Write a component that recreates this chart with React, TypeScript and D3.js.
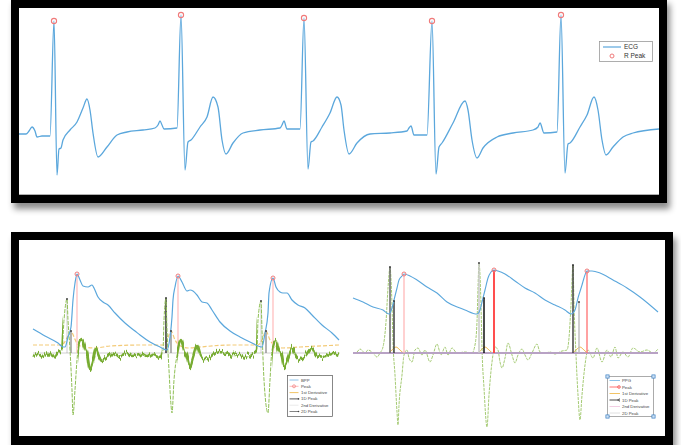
import React from 'react';
import * as d3 from 'd3';

type P = [number, number];

// ---------- ECG (top) : [sample, mV] ----------
const ecgSignal: P[] = [
  [0, -0.02], [7, -0.02], [10, 0.04], [13, 0.12], [16, 0.04], [18, -0.08], [23, -0.06], [31, -0.06],
  [35, 2.24], [38, -0.84], [40, -0.32], [42, -0.3], [44, -0.14], [51, 0.06], [58, 0.22], [64, 0.5],
  [68, 0.68], [71, 0.46], [74, 0.0], [79, -0.48], [88, -0.28], [98, -0.04], [108, 0.02], [124, 0.06],
  [136, 0.1], [139, 0.16], [141, 0.24], [143, 0.16], [145, 0.08], [158, 0.1],
  [162, 2.36], [166, -0.74], [169, -0.18], [172, -0.14], [181, 0.12], [188, 0.32], [194, 0.72],
  [199, 0.52], [203, -0.14], [207, -0.42], [214, -0.2], [224, 0.0], [241, 0.06], [261, 0.1],
  [263, 0.16], [265, 0.24], [268, 0.08], [281, 0.08],
  [285, 2.3], [289, -0.72], [292, -0.18], [294, -0.16], [303, 0.12], [311, 0.4], [318, 0.72],
  [322, 0.56], [325, 0.06], [330, -0.42], [338, -0.2], [351, -0.02], [371, 0.0], [388, 0.04],
  [390, 0.1], [392, 0.14], [395, -0.04], [408, -0.04],
  [413, 2.24], [417, -0.82], [420, -0.28], [423, -0.2], [434, 0.2], [446, 0.64], [449, 0.46],
  [453, -0.14], [458, -0.5], [464, -0.3], [478, -0.08], [494, 0.0], [514, 0.06], [519, 0.12],
  [521, 0.2], [525, 0.0], [538, 0.02],
  [542, 2.36], [546, -0.8], [549, -0.22], [551, -0.2], [561, 0.12], [568, 0.36], [575, 0.72],
  [579, 0.46], [583, -0.14], [587, -0.44], [594, -0.28], [604, -0.08], [614, 0.0], [640, 0.08],
];
const ecgRPeaks: P[] = [[35, 2.24], [162, 2.36], [285, 2.3], [413, 2.24], [542, 2.36]];
const ecgLegend = ['ECG', 'R Peak'];

// ---------- BPP (bottom left) : [sample, a.u.] ----------
const bppSignal: P[] = [
  [0, 24], [12, 17], [25, 10], [30, 6], [32, 6], [35, 16], [38, 26], [40, 53], [42, 70], [44, 79],
  [47, 73], [50, 67], [55, 66], [59, 68], [61, 65], [65, 56], [70, 51], [75, 48], [82, 40], [92, 30],
  [102, 22], [107, 18], [117, 11], [127, 6], [134, 3], [137, 16], [139, 36], [140, 53], [142, 66],
  [145, 77], [149, 71], [154, 62], [157, 63], [160, 62], [164, 58], [169, 51], [174, 50], [179, 43],
  [187, 31], [197, 22], [207, 16], [217, 11], [229, 6], [232, 20], [235, 40], [236, 60], [240, 75],
  [243, 66], [247, 61], [250, 60], [254, 60], [259, 53], [265, 48], [272, 45], [279, 38], [289, 28],
  [299, 20], [306, 13],
];
const bppPeaks: P[] = [[44, 79], [145, 77], [240, 75]];
const bppD1: P[] = [
  [0, 8], [27, 8], [31, 10], [35, 17], [38, 22], [41, 16], [45, 8], [52, 6], [62, 5], [77, 7],
  [107, 8], [130, 8], [134, 13], [138, 22], [142, 13], [146, 8], [155, 5], [167, 6], [197, 8],
  [225, 8], [229, 13], [233, 22], [237, 13], [241, 8], [250, 5], [267, 6], [306, 8],
];
const bppD1Peaks: P[] = [[38, 22], [138, 22], [233, 22]];
const bppD2: P[] = [
  [0, -3], [5, -1], [10, -4], [15, 0], [20, -4], [25, 1], [29, 3], [31, 33], [34, 54], [35, 33],
  [37, 3], [39, -37], [40, -62], [42, -37], [44, -7], [46, 10], [49, 14], [52, 5], [54, 0], [57, -17],
  [60, -7], [63, 5], [65, 0], [69, -7], [74, -4], [79, 0], [84, -3], [89, -2], [94, 0], [99, -3],
  [107, -1], [114, -4], [120, -1], [127, -4], [130, 3], [131, 33], [133, 55], [134, 23], [136, -17],
  [138, -52], [139, -60], [141, -27], [144, -2], [148, 13], [151, 3], [154, -3], [157, -14], [160, -5],
  [164, 7], [167, -2], [172, -7], [177, -4], [184, 1], [194, 0], [200, -3], [207, -2], [214, -4],
  [219, -1], [224, 3], [225, 33], [228, 52], [229, 23], [231, -27], [235, -60], [237, -27], [239, 3],
  [243, 13], [245, 5], [249, -3], [251, -14], [255, -5], [259, 5], [262, -2], [267, -7], [272, -3],
  [279, 5], [284, -2], [292, -4], [299, -1], [306, -3],
];
const bppD2Peaks: P[] = [[34, 54], [133, 55], [228, 52]];
const bppLegend = ['BPP', 'Peak', '1st Derivative', '1D Peak', '2nd Derivative', '2D Peak'];

// ---------- PPG (bottom right) : [sample, a.u.] ----------
const ppgSignal: P[] = [
  [0, 55], [10, 51], [20, 46], [30, 43], [36, 39], [39, 45], [41, 53], [44, 65], [46, 73], [49, 77],
  [51, 79], [57, 77], [64, 73], [74, 66], [84, 60], [94, 51], [107, 45], [112, 43], [124, 39],
  [127, 43], [129, 51], [132, 63], [135, 75], [138, 81], [141, 83], [145, 82], [152, 79], [162, 72],
  [172, 65], [182, 60], [192, 53], [202, 48], [212, 43], [218, 39], [222, 43], [225, 55], [229, 68],
  [231, 75], [234, 82], [239, 82], [247, 80], [260, 73], [274, 65], [287, 56], [305, 41],
];
const ppgPeaks: P[] = [[51, 79], [141, 83], [234, 82]];
const ppgD1: P[] = [
  [0, 0], [35, 0], [39, 3], [43, 6], [47, 3], [51, 0], [125, 0], [128, 3], [132, 6], [136, 3],
  [140, 0], [219, 0], [223, 3], [227, 6], [231, 3], [235, 0], [305, 0],
];
const ppgD1Peaks: P[] = [[41, 52], [131, 55], [226, 51]];
const ppgD2: P[] = [
  [0, 0], [4, 1], [7, 4], [12, 0], [15, 3], [20, 0], [24, -4], [27, 0], [30, 6], [33, 31], [35, 65],
  [37, 85], [39, 48], [40, 11], [42, -22], [44, -59], [45, -72], [46, -52], [49, -22], [51, -2],
  [54, 3], [56, -5], [59, -9], [62, 3], [65, 5], [69, -2], [72, 3], [77, -9], [80, -2], [84, 9],
  [88, -2], [92, 6], [95, -2], [99, 5], [104, 0], [112, 1], [119, 0], [122, 8], [124, 31], [125, 65],
  [126, 90], [128, 48], [129, 5], [131, -35], [134, -74], [136, -42], [139, -9], [142, 6], [145, 3],
  [147, -9], [149, -15], [152, -5], [155, 10], [159, -2], [162, -10], [165, -2], [169, 4], [172, -2],
  [175, -7], [179, 0], [184, 9], [187, 1], [192, 0], [197, 1], [202, -1], [209, 2], [214, 3],
  [216, 15], [218, 48], [220, 88], [221, 48], [223, -2], [225, -42], [227, -67], [229, -42],
  [232, -12], [235, 3], [240, -5], [244, 5], [249, -9], [254, 3], [258, -4], [262, 6], [265, -5],
  [270, 1], [275, -4], [280, 5], [287, 1], [294, 3], [300, 0], [305, 4],
];
const ppgD2Peaks: P[] = [[37, 86], [126, 90], [220, 88]];
const ppgLegend = ['PPG', 'Peak', '1st Derivative', '1D Peak', '2nd Derivative', '2D Peak'];

// per-beat styles of the stems (as they appear in the screenshot)
const ppgPeakLineColors = ['#ffb8b8', '#ff3b3b', '#ff7070'];
const ppgD1StemColors = ['#333', '#000', '#bbb'];
const ppgD2StemColors = ['#666', '#c8c8c8', '#444'];
const bppD2StemOpacity = [0.15, 1, 0.15];

const FONT = 'Liberation Sans, Arial, Helvetica, sans-serif';
const BLUE = '#5ba7dc';
const GREEN = '#77ac30';
const YELLOW = '#f0bd55';

export default function App() {
  const ecgX = d3.scaleLinear().domain([0, 640]).range([19, 659]);
  const ecgY = d3.scaleLinear().domain([-1.24, 2.5]).range([195, 8]);
  const lx = d3.scaleLinear().domain([0, 306]).range([33, 339]);
  const rx = d3.scaleLinear().domain([0, 305]).range([353, 658]);
  const by = d3.scaleLinear().domain([-83, 113]).range([436, 240]);

  const mk = (sx: d3.ScaleLinear<number, number>, sy: d3.ScaleLinear<number, number>) =>
    d3.line<P>().x((d) => sx(d[0])).y((d) => sy(d[1])).curve(d3.curveMonotoneX);

  const ecgLine = mk(ecgX, ecgY);
  const lLine = mk(lx, by);
  const rLine = mk(rx, by);
  const y0 = by(0);

  // noisy band segments: the whole left trace except the big 2nd-derivative spikes
  const spikeWin = bppD2Peaks.map((p) => [p[0] - 4, p[0] + 11]);
  const segs: [number, number][] = [];
  let s0 = -5;
  spikeWin.forEach((w) => { segs.push([s0, w[0]]); s0 = w[1]; });
  segs.push([s0, 312]);

  return (
    <svg width={681} height={445} style={{ position: 'absolute', left: 0, top: 0 }}>
      <defs>
        <filter id="shadow" x="-5%" y="-5%" width="115%" height="125%">
          <feDropShadow dx="3" dy="6" stdDeviation="3" floodColor="#000" floodOpacity="0.45" />
        </filter>
        <filter id="noise" filterUnits="userSpaceOnUse" x="20" y="240" width="330" height="200">
          <feTurbulence type="fractalNoise" baseFrequency="0.55 0.015" numOctaves="2" seed="7" result="t" />
          <feColorMatrix in="t" type="matrix"
            values="0 0 0 0 0.5  0 1 0 0 0  0 0 0 0 0  0 0 0 0 1" result="tv" />
          <feDisplacementMap in="SourceGraphic" in2="tv" scale="11" xChannelSelector="R" yChannelSelector="G" />
        </filter>
        <clipPath id="clipTop">
          <rect x={19} y={8} width={640} height={187} />
        </clipPath>
        <clipPath id="clipNoise">
          {segs.map((s, i) => (
            <rect key={i} x={lx(s[0])} y={240} width={lx(s[1]) - lx(s[0])} height={196} />
          ))}
        </clipPath>
      </defs>
      <rect width={681} height={445} fill="#fff" />

      {/* ---------------- TOP PANEL ---------------- */}
      <rect x={11} y={-2} width={656} height={205} fill="#000" filter="url(#shadow)" />
      <rect x={19} y={8} width={640} height={187} fill="#fff" />
      <line x1={19} x2={659} y1={194.5} y2={194.5} stroke="#b0b0b0" strokeWidth={1} />
      <g clipPath="url(#clipTop)">
        <path d={ecgLine(ecgSignal) || ''} fill="none" stroke={BLUE} strokeWidth={1.3} strokeLinejoin="round" />
        {ecgRPeaks.map((d, i) => (
          <circle key={i} cx={ecgX(d[0])} cy={ecgY(d[1])} r={2.6} fill="none" stroke="#f07a7a" strokeWidth={1.1} />
        ))}
      </g>
      {/* top legend */}
      <g fontFamily={FONT} fontSize={6.5} fill="#333">
        <rect x={599.5} y={41.5} width={53} height={20} fill="#fff" stroke="#999" strokeWidth={0.8} />
        <line x1={603} x2={621} y1={47} y2={47} stroke={BLUE} strokeWidth={1.2} />
        <text x={624} y={49.3}>{ecgLegend[0]}</text>
        <circle cx={612} cy={56} r={2} fill="none" stroke="#f07a7a" strokeWidth={1} />
        <text x={624} y={58.3}>{ecgLegend[1]}</text>
      </g>

      {/* ---------------- BOTTOM PANEL ---------------- */}
      <rect x={11} y={232} width={662} height={213} fill="#000" filter="url(#shadow)" />
      <rect x={19} y={240} width={646} height={196} fill="#fff" />

      {/* left subplot */}
      <line x1={lx(0)} x2={lx(306)} y1={y0} y2={y0} stroke="#d0d0d0" strokeWidth={1} />
      <path d={lLine(bppD1) || ''} fill="none" stroke={YELLOW} strokeWidth={1.2} strokeDasharray="4 2" opacity={0.8} />
      {bppPeaks.map((d, i) => (
        <line key={i} x1={lx(d[0])} x2={lx(d[0])} y1={by(d[1])} y2={y0} stroke="#ffc4c4" strokeWidth={1.4} />
      ))}
      {bppD1Peaks.map((d, i) => (
        <line key={i} x1={lx(d[0])} x2={lx(d[0])} y1={by(d[1])} y2={y0} stroke="#888" strokeWidth={1.3} />
      ))}
      {bppD2Peaks.map((d, i) => (
        <line key={i} x1={lx(d[0])} x2={lx(d[0])} y1={by(d[1])} y2={y0} stroke="#222" strokeWidth={1.4} opacity={bppD2StemOpacity[i]} />
      ))}
      <path d={lLine(bppD2) || ''} fill="none" stroke="#8fbf55" strokeWidth={1} strokeDasharray="4 1.2" />
      <g clipPath="url(#clipNoise)">
        <g filter="url(#noise)">
          <path d={lLine(bppD2) || ''} fill="none" stroke={GREEN} strokeWidth={2.6} strokeLinejoin="round" />
        </g>
      </g>
      <path d={lLine(bppSignal) || ''} fill="none" stroke={BLUE} strokeWidth={1.2} />
      {bppPeaks.map((d, i) => (
        <circle key={i} cx={lx(d[0])} cy={by(d[1])} r={2} fill="none" stroke="#f07a7a" strokeWidth={1} />
      ))}
      {bppD1Peaks.concat(bppD2Peaks).map((d, i) => (
        <circle key={i} cx={lx(d[0])} cy={by(d[1])} r={1} fill="#444" />
      ))}
      {/* left legend */}
      <g fontFamily={FONT} fontSize={4.3} fill="#444">
        <rect x={287.5} y={375.5} width={45} height={41} fill="#fff" stroke="#555" strokeWidth={0.7} />
        {bppLegend.map((t, i) => {
          const yy = 380 + i * 6.3;
          const col = ['#7fbbe6', '#ffb0b0', YELLOW, '#444', '#e8e8e8', '#777'][i];
          return (
            <g key={i}>
              <line x1={289.5} x2={298.5} y1={yy} y2={yy} stroke={col} strokeWidth={0.9} />
              {i === 1 && <circle cx={294} cy={yy} r={1.5} fill="none" stroke="#f07a7a" strokeWidth={0.7} />}
              {(i === 3 || i === 5) && <circle cx={298.5} cy={yy} r={0.8} fill="#444" />}
              <text x={301} y={yy + 1.5}>{t}</text>
            </g>
          );
        })}
      </g>

      {/* right subplot */}
      <path d={rLine(ppgD1) || ''} fill="none" stroke={YELLOW} strokeWidth={1} />
      <path d={rLine(ppgD2) || ''} fill="none" stroke="#9bc464" strokeWidth={0.9} strokeDasharray="3 1" />
      <line x1={rx(0)} x2={rx(305)} y1={y0} y2={y0} stroke="#b8a2c4" strokeWidth={1.8} />
      {ppgD2Peaks.map((d, i) => (
        <line key={i} x1={rx(d[0])} x2={rx(d[0])} y1={by(d[1])} y2={y0} stroke={ppgD2StemColors[i]} strokeWidth={1.5} />
      ))}
      {ppgD1Peaks.map((d, i) => (
        <line key={i} x1={rx(d[0])} x2={rx(d[0])} y1={by(d[1])} y2={y0} stroke={ppgD1StemColors[i]} strokeWidth={1.4} />
      ))}
      {ppgPeaks.map((d, i) => (
        <line key={i} x1={rx(d[0])} x2={rx(d[0])} y1={by(d[1])} y2={y0} stroke={ppgPeakLineColors[i]} strokeWidth={i === 1 ? 1.8 : 1.3} />
      ))}
      <path d={rLine(ppgSignal) || ''} fill="none" stroke={BLUE} strokeWidth={1.1} />
      {ppgPeaks.map((d, i) => (
        <circle key={i} cx={rx(d[0])} cy={by(d[1])} r={2} fill="none" stroke="#f07a7a" strokeWidth={1} />
      ))}
      {ppgD1Peaks.concat(ppgD2Peaks).map((d, i) => (
        <circle key={i} cx={rx(d[0])} cy={by(d[1])} r={0.9} fill="#333" />
      ))}
      {/* right legend */}
      <g fontFamily={FONT} fontSize={4.3} fill="#444">
        <rect x={607.5} y={376.5} width={46} height={40} fill="#fff" stroke="#888" strokeWidth={0.7} />
        {ppgLegend.map((t, i) => {
          const yy = 380.5 + i * 6.5;
          const col = ['#7fbbe6', '#ff6060', YELLOW, '#333', '#f0c8e0', '#ddd'][i];
          return (
            <g key={i}>
              <line x1={609.5} x2={620} y1={yy} y2={yy} stroke={col} strokeWidth={0.9} />
              {i === 1 && <circle cx={619} cy={yy} r={1.4} fill="none" stroke="#f05050" strokeWidth={0.7} />}
              {i === 3 && <path d={`M620,${yy - 1.5} L617.5,${yy} L620,${yy + 1.5}`} fill="none" stroke="#333" strokeWidth={0.6} />}
              <text x={622} y={yy + 1.5}>{t}</text>
            </g>
          );
        })}
        {[[607.5, 376.5], [653.5, 376.5], [607.5, 416.5], [653.5, 416.5]].map((c, i) => (
          <rect key={i} x={c[0] - 1.6} y={c[1] - 1.6} width={3.2} height={3.2} fill="#cfe2f5" stroke="#3a7fc4" strokeWidth={0.7} />
        ))}
      </g>
    </svg>
  );
}
